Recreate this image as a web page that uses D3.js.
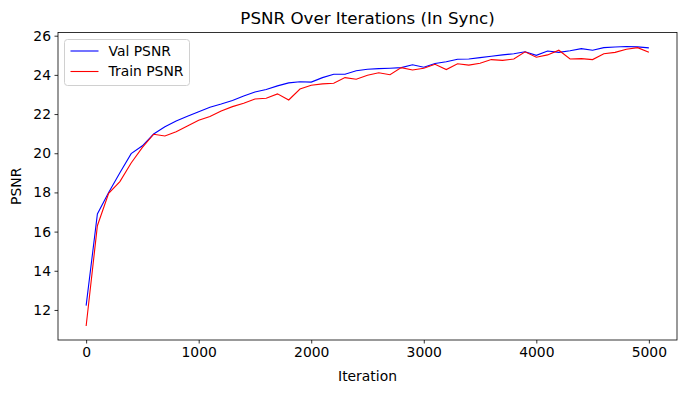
<!DOCTYPE html>
<html>
<head>
<meta charset="utf-8">
<script src="https://cdn.jsdelivr.net/npm/d3@7"></script>
<style>
  body { margin: 0; background: #fff; }
  svg { font-family: "DejaVu Sans", sans-serif; }
</style>
</head>
<body>
<svg width="687" height="393"></svg>
<script>
// one point every 100 iterations
const iterations = d3.range(0, 5001, 100);
const valPsnr = [12.22, 16.9, 18.0, 19.0, 19.98, 20.38, 20.98, 21.35, 21.65, 21.89,
    22.12, 22.35, 22.51, 22.69, 22.92, 23.13, 23.25, 23.44, 23.59, 23.65,
    23.63, 23.86, 24.03, 24.03, 24.21, 24.29, 24.32, 24.34, 24.37, 24.52,
    24.39, 24.58, 24.67, 24.8, 24.81, 24.88, 24.95, 25.02, 25.08, 25.18,
    25.0, 25.22, 25.15, 25.23, 25.34, 25.26, 25.39, 25.42, 25.45, 25.43, 25.38];
const trainPsnr = [11.18, 16.3, 17.95, 18.55, 19.5, 20.3, 20.97, 20.88, 21.1, 21.39,
    21.68, 21.87, 22.16, 22.38, 22.55, 22.77, 22.81, 23.03, 22.72, 23.28,
    23.47, 23.54, 23.57, 23.86, 23.78, 23.98, 24.11, 24.01, 24.37, 24.25,
    24.34, 24.54, 24.27, 24.57, 24.5, 24.59, 24.78, 24.74, 24.81, 25.18,
    24.9, 25.02, 25.26, 24.81, 24.83, 24.78, 25.08, 25.15, 25.31, 25.39, 25.15];
const xTicks = [0, 1000, 2000, 3000, 4000, 5000];
const yTicks = [12, 14, 16, 18, 20, 22, 24, 26];

const series = [
    { name: 'Val PSNR', color: 'blue', values: valPsnr },
    { name: 'Train PSNR', color: 'red', values: trainPsnr }
];

var margin = { left: 58, right: 10, top: 32.5, bottom: 53 };
var W = 687, H = 393;

var svg = d3.select('svg');

// matplotlib style 5% padding
function padded(ext) {
    var p = (ext[1] - ext[0]) * 0.05;
    return [ext[0] - p, ext[1] + p];
}

var x = d3.scaleLinear()
    .domain(padded(d3.extent(iterations)))
    .range([margin.left, W - margin.right]);

var allY = valPsnr.concat(trainPsnr);
var y = d3.scaleLinear()
    .domain(padded(d3.extent(allY)))
    .range([H - margin.bottom, margin.top]);

var xAxis = svg.append('g')
    .attr('transform', `translate(0,${H - margin.bottom})`)
    .call(d3.axisBottom(x).tickValues(xTicks).tickSize(3.5).tickPadding(3.5).tickFormat(d3.format('d')));

var yAxis = svg.append('g')
    .attr('transform', `translate(${margin.left},0)`)
    .call(d3.axisLeft(y).tickValues(yTicks).tickSize(3.5).tickPadding(3.5).tickFormat(d3.format('d')));

[xAxis, yAxis].forEach(a => {
    a.select('.domain').remove();
    a.selectAll('line').attr('stroke', '#000').attr('stroke-width', 0.8);
    a.selectAll('text').attr('font-size', '13.9px').attr('fill', '#000')
        .attr('font-family', '"DejaVu Sans", sans-serif');
});

var line = d3.line()
    .x((d, i) => x(iterations[i]))
    .y(d => y(d));

var plot = svg.append('g');
series.forEach(s => {
    plot.append('path')
        .datum(s.values)
        .attr('d', line)
        .attr('fill', 'none')
        .attr('stroke', s.color)
        .attr('stroke-width', 1.1);
});

// axes frame
svg.append('rect')
    .attr('x', margin.left)
    .attr('y', margin.top)
    .attr('width', W - margin.right - margin.left)
    .attr('height', H - margin.bottom - margin.top)
    .attr('fill', 'none')
    .attr('stroke', '#000')
    .attr('stroke-width', 0.8);

svg.append('text')
    .attr('x', (margin.left + W - margin.right) / 2)
    .attr('y', 23.5)
    .attr('text-anchor', 'middle')
    .attr('font-size', '16.7px')
    .text('PSNR Over Iterations (In Sync)');

svg.append('text')
    .attr('x', (margin.left + W - margin.right) / 2)
    .attr('y', 381)
    .attr('text-anchor', 'middle')
    .attr('font-size', '13.9px')
    .text('Iteration');

svg.append('text')
    .attr('transform', `translate(21,${(margin.top + H - margin.bottom) / 2}) rotate(-90)`)
    .attr('text-anchor', 'middle')
    .attr('font-size', '13.9px')
    .text('PSNR');

// legend
var legend = svg.append('g').attr('transform', `translate(64.5,39.5)`);
legend.append('rect')
    .attr('width', 125)
    .attr('height', 46)
    .attr('rx', 3)
    .attr('fill', 'rgba(255,255,255,0.8)')
    .attr('stroke', '#d0d0d0')
    .attr('stroke-width', 1);

series.forEach((s, i) => {
    var g = legend.append('g').attr('transform', `translate(0,${11.5 + i * 20.5})`);
    g.append('line')
        .attr('x1', 6).attr('x2', 34)
        .attr('stroke', s.color)
        .attr('stroke-width', 1.1);
    g.append('text')
        .attr('x', 44)
        .attr('dy', '0.35em')
        .attr('font-size', '13.9px')
        .text(s.name);
});
</script>
</body>
</html>
